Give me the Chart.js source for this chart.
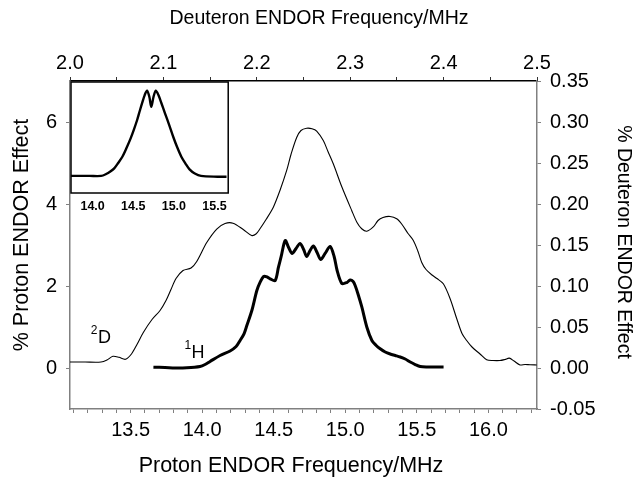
<!DOCTYPE html>
<html><head><meta charset="utf-8">
<script src="https://cdn.jsdelivr.net/npm/chart.js@4.4.0/dist/chart.umd.min.js"></script>
<style>
html,body{margin:0;padding:0;background:#fff;}
#wrap{position:relative;width:637px;height:477px;overflow:hidden;}
#main{position:absolute;left:0;top:0;}
#inset{position:absolute;left:69px;top:80px;}
</style></head><body>
<div id="wrap"><canvas id="main" width="637" height="477"></canvas><canvas id="inset" width="164" height="140"></canvas></div>
<script>
// Deuteron ENDOR (top axis, MHz) and effect (%)
const deuteronFreq = [2.0000,2.0161,2.0332,2.0396,2.0460,2.0525,2.0594,2.0658,2.0717,2.0785,2.0878,2.0964,2.1028,2.1081,2.1135,2.1210,2.1296,2.1357,2.1464,2.1571,2.1660,2.1745,2.1855,2.1945,2.1991,2.2034,2.2099,2.2177,2.2248,2.2320,2.2366,2.2427,2.2473,2.2534,2.2591,2.2641,2.2712,2.2762,2.2819,2.2909,2.3016,2.3073,2.3123,2.3177,2.3247,2.3298,2.3351,2.3426,2.3498,2.3555,2.3619,2.3676,2.3726,2.3766,2.3812,2.3876,2.3929,2.3997,2.4069,2.4140,2.4197,2.4247,2.4304,2.4390,2.4461,2.4529,2.4604,2.4657,2.4703,2.4754,2.4818,2.4872,2.4925,2.4997];
const deuteronEffect = [0.0073,0.0073,0.0073,0.0098,0.0143,0.0130,0.0106,0.0171,0.0287,0.0433,0.0591,0.0701,0.0823,0.0957,0.1091,0.1189,0.1220,0.1299,0.1530,0.1695,0.1762,0.1766,0.1689,0.1616,0.1634,0.1698,0.1811,0.1961,0.2165,0.2409,0.2604,0.2811,0.2896,0.2924,0.2918,0.2890,0.2774,0.2640,0.2490,0.2213,0.1921,0.1774,0.1698,0.1668,0.1720,0.1799,0.1835,0.1848,0.1820,0.1750,0.1640,0.1555,0.1421,0.1287,0.1201,0.1134,0.1091,0.1027,0.0848,0.0604,0.0421,0.0335,0.0256,0.0171,0.0100,0.0091,0.0091,0.0104,0.0120,0.0085,0.0037,0.0043,0.0039,0.0037];
// Proton ENDOR (bottom axis, MHz) and effect (%)
const protonFreq = [13.659,13.740,13.810,13.892,13.985,14.020,14.055,14.125,14.195,14.237,14.265,14.293,14.312,14.347,14.382,14.405,14.429,14.454,14.475,14.510,14.533,14.552,14.580,14.604,14.628,14.656,14.684,14.709,14.730,14.754,14.777,14.803,14.828,14.859,14.894,14.922,14.943,14.976,15.011,15.034,15.055,15.069,15.090,15.116,15.151,15.186,15.216,15.244,15.279,15.314,15.349,15.384,15.419,15.454,15.489,15.524,15.570,15.628,15.687];
const protonEffect = [0.020,0.012,0.000,0.005,0.037,0.085,0.159,0.305,0.415,0.524,0.671,0.841,1.037,1.402,1.890,2.093,2.232,2.220,2.176,2.134,2.459,2.720,3.110,2.939,2.793,2.915,3.037,2.890,2.720,2.866,2.976,2.817,2.646,2.793,2.963,2.720,2.378,2.061,2.085,2.146,2.110,2.012,1.793,1.483,0.995,0.671,0.549,0.468,0.390,0.341,0.305,0.268,0.220,0.146,0.085,0.037,0.024,0.024,0.024];
// Inset spectrum
const insetFreq = [13.734,13.964,14.105,14.166,14.218,14.266,14.314,14.366,14.417,14.468,14.508,14.548,14.580,14.608,14.641,14.669,14.698,14.722,14.750,14.778,14.810,14.846,14.891,14.943,14.992,15.040,15.092,15.143,15.193,15.258,15.334,15.536,15.648];
const insetSignal = [0,0,0,0.022,0.052,0.089,0.151,0.225,0.327,0.440,0.543,0.655,0.760,0.850,0.947,0.998,0.927,0.810,0.927,0.998,0.947,0.854,0.733,0.596,0.459,0.338,0.225,0.145,0.077,0.028,0,-0.009,-0.009];
// Tick labels
const protonTickLabels = ['13.5','14.0','14.5','15.0','15.5','16.0'];
const deuteronTickLabels = ['2.0','2.1','2.2','2.3','2.4','2.5'];
const protonEffectTicks = [0, 2, 4, 6];
const insetTickLabels = ['14.0','14.5','15.0','15.5'];
// Texts
const axisTitles = { top: 'Deuteron ENDOR Frequency/MHz', bottom: 'Proton ENDOR Frequency/MHz', left: '% Proton ENDOR Effect', right: '% Deuteron ENDOR Effect' };
const nucleusLabels = [{sup:'2', base:'D', x:13.272, y:0.60}, {sup:'1', base:'H', x:13.926, y:0.24}];

const FAM = "'Liberation Sans', Arial, sans-serif";
Chart.defaults.font.family = FAM;
Chart.defaults.color = '#000';
const AX = '#808080';

const textPlugin = {
  id: 'texts',
  afterDraw(c) {
    const ctx = c.ctx, xs = c.scales.x, ys = c.scales.y;
    ctx.save();
    ctx.fillStyle = '#000';
    // nucleus labels
    ctx.textBaseline = 'alphabetic';
    nucleusLabels.forEach(l => {
      const px = xs.getPixelForValue(l.x), py = ys.getPixelForValue(l.y);
      ctx.font = '18px ' + FAM;
      ctx.textAlign = 'left';
      ctx.fillText(l.base, px, py);
      ctx.font = '12px ' + FAM;
      ctx.textAlign = 'right';
      ctx.fillText(l.sup, px - 0.5, py - 9);
    });
    // axis titles
    ctx.textAlign = 'center';
    ctx.textBaseline = 'middle';
    ctx.font = '19.5px ' + FAM;
    ctx.fillText(axisTitles.top, 319, 18.5);
    ctx.save(); ctx.translate(623, 242); ctx.rotate(Math.PI / 2); ctx.fillText(axisTitles.right, 0, 0); ctx.restore();
    ctx.font = '21.5px ' + FAM;
    ctx.fillText(axisTitles.bottom, 291, 466);
    ctx.save(); ctx.translate(22, 235); ctx.rotate(-Math.PI / 2); ctx.fillText(axisTitles.left, 0, 0); ctx.restore();
    ctx.restore();
  }
};

new Chart(document.getElementById('main'), {
  type: 'line',
  data: { datasets: [
    { label: '2H', data: deuteronFreq.map((x, i) => ({x, y: deuteronEffect[i]})), xAxisID: 'x2', yAxisID: 'y2',
      borderColor: '#000', borderWidth: 1.1, pointRadius: 0, tension: 0.3, fill: false },
    { label: '1H', data: protonFreq.map((x, i) => ({x, y: protonEffect[i]})), xAxisID: 'x', yAxisID: 'y',
      borderColor: '#000', borderWidth: 3, pointRadius: 0, tension: 0.3, fill: false }
  ]},
  options: {
    responsive: false, animation: false, events: [],
    layout: { padding: 0 },
    plugins: { legend: { display: false }, tooltip: { enabled: false } },
    scales: {
      x: { type: 'linear', position: 'bottom', min: 13.076, max: 16.34,
        afterFit(s) { s.height = 68; },
        border: { color: AX, width: 1.5 },
        grid: { drawOnChartArea: false, drawTicks: true, tickLength: 4, color: AX },
        ticks: { stepSize: 0.1, includeBounds: false, autoSkip: false, maxRotation: 0, padding: 5,
          font: { size: 20 },
          callback: v => { const t = v.toFixed(1); return protonTickLabels.includes(t) && Math.abs(v*10-Math.round(v*10))<1e-6 ? t : ''; } },
        title: { display: false } },
      x2: { type: 'linear', position: 'top', min: 2.0, max: 2.5,
        afterFit(s) { s.height = 81; },
        border: { color: '#000', width: 1.5 },
        grid: { drawOnChartArea: false, drawTicks: true, tickLength: 4, color: '#333' },
        ticks: { stepSize: 0.05, includeBounds: false, autoSkip: false, maxRotation: 0, padding: 2,
          font: { size: 20 },
          callback: v => { const t = v.toFixed(1); return Math.abs(v*10-Math.round(v*10))<1e-6 && deuteronTickLabels.includes(t) ? t : ''; } },
        title: { display: false } },
      y: { type: 'linear', position: 'left', min: -1, max: 7,
        afterFit(s) { s.width = 70; },
        afterBuildTicks(s) { s.ticks = protonEffectTicks.map(v => ({ value: v })); },
        border: { color: AX, width: 1.5 },
        grid: { drawOnChartArea: false, drawTicks: true, tickLength: 4, color: AX },
        ticks: { padding: 9, font: { size: 20 }, callback: v => String(v) },
        title: { display: false } },
      y2: { type: 'linear', position: 'right', min: -0.05, max: 0.35,
        afterFit(s) { s.width = 100; },
        border: { color: AX, width: 1.5 },
        grid: { drawOnChartArea: false, drawTicks: true, tickLength: 4, color: AX },
        ticks: { stepSize: 0.05, includeBounds: false, padding: 9, font: { size: 20 },
          callback: v => (Math.abs(v) < 1e-9 ? 0 : v).toFixed(2) },
        title: { display: false } }
    }
  },
  plugins: [textPlugin]
});

const boxPlugin = {
  id: 'box',
  afterDraw(c) {
    const a = c.chartArea, ctx = c.ctx;
    ctx.save();
    ctx.strokeStyle = '#000';
    ctx.lineWidth = 1.5;
    ctx.strokeRect(a.left, a.top, a.right - a.left, a.bottom - a.top);
    ctx.restore();
  }
};

new Chart(document.getElementById('inset'), {
  type: 'line',
  data: { datasets: [
    { data: insetFreq.map((x, i) => ({x, y: insetSignal[i]})), borderColor: '#000', borderWidth: 2.4, pointRadius: 0, tension: 0.3, fill: false }
  ]},
  options: {
    responsive: false, animation: false, events: [],
    layout: { padding: { left: 2, top: 2, right: 4, bottom: 0 } },
    plugins: { legend: { display: false }, tooltip: { enabled: false } },
    scales: {
      x: { type: 'linear', min: 13.734, max: 15.669,
        afterFit(s) { s.height = 27; },
        border: { display: false },
        grid: { display: false, drawTicks: false },
        ticks: { stepSize: 0.5, includeBounds: false, autoSkip: false, maxRotation: 0, padding: 6,
          font: { size: 12.5, weight: 'bold' },
          callback: v => { const t = v.toFixed(1); return insetTickLabels.includes(t) ? t : ''; } } },
      y: { display: false, min: -0.2, max: 1.1 }
    }
  },
  plugins: [boxPlugin]
});
</script>
</body></html>
